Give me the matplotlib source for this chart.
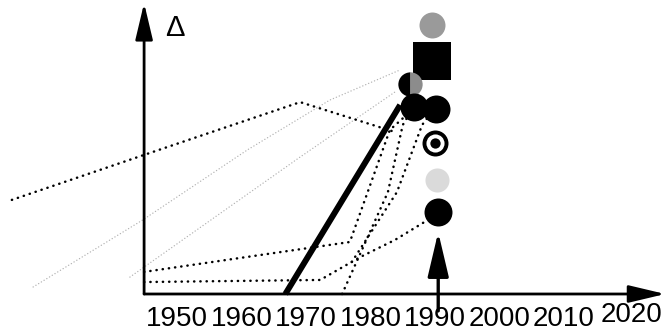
import matplotlib
matplotlib.use("Agg")
import matplotlib.pyplot as plt
from matplotlib import font_manager
from matplotlib.transforms import ScaledTranslation

plt.rcParams['font.family'] = ['Liberation Sans', 'DejaVu Sans']

# tick labels on the time axis
tick_years = [1950, 1960, 1970, 1980, 1990, 2000, 2010, 2020]
tick_labels = ['1950', '1960', '1970', '1980', '1990', '2000', '2010', '2020']

# thick solid trend
thick_years = [1966.8, 1984.6]
thick_delta = [0, 72.7]

# black dotted paths
long_years = [1924.4, 1944.9, 1969.1, 1983.3]
long_delta = [36.2, 53.5, 73.8, 62.7]
a_years = [1944.9, 1976.8, 1983.0, 1986.1]
a_delta = [8.5, 20.0, 63.1, 70.0]
c_years = [1975.6, 1982.7, 1985.0, 1986.4]
c_delta = [0, 39.2, 65.0, 70.8]
d_years = [1944.9, 1972.2, 1978.4, 1983.8, 1988.9]
d_delta = [4.6, 5.4, 14.2, 20.8, 28.5]
e_years = [1977.1, 1984.1, 1988.0, 1989.5]
e_delta = [12.3, 39.2, 65.0, 70.0]

# faint grey dotted paths
faint1_years = [1927.7, 1944.7, 1960.9, 1973.7, 1984.6]
faint1_delta = [2.7, 28.5, 55.4, 74.6, 86.2]
faint2_years = [1942.7, 1969.1, 1983.8]
faint2_delta = [6.5, 52.7, 77.7]

# end markers
black_years = [1986.8, 1990.2, 1990.5]
black_delta = [71.9, 71.2, 31.5]
grey_year, grey_delta = 1989.5, 103.5
square_year, square_delta = 1989.5, 89.6
half_year, half_delta = 1986.1, 80.8
target_year, target_delta = 1990.0, 58.1
pale_year, pale_delta = 1990.3, 43.8
arrow_year, arrow_delta = 1990.5, 23.8

axis_year = 1944.9
x_end = 2025.7
y_end = 111.9


def dotted(ax, xs, ys, color='black', lw=1.6, gap=2.6):
    ax.plot(xs, ys, color=color, lw=lw, linestyle=(0, (0.1, gap)),
            dash_capstyle='round', clip_on=False, zorder=2)


def label_font():
    # narrow face if there is one, else plain Liberation a bit smaller
    try:
        font_manager.findfont('Liberation Sans Narrow', fallback_to_default=False)
        return 'Liberation Sans Narrow', 23
    except ValueError:
        return 'Liberation Sans', 20


def main():
    fig = plt.figure(figsize=(6.67, 3.34), dpi=100)
    ax = fig.add_axes([0, 40 / 334, 1, 294 / 334])
    ax.set_xlim(1922.56, 2025.97)
    ax.set_ylim(0, 113.08)
    for s in ax.spines.values():
        s.set_visible(False)
    ax.set_yticks([])
    family, size = label_font()
    ax.set_xticks(tick_years)
    ax.set_xticklabels(tick_labels, fontsize=size, family=family)
    ax.tick_params(axis='x', length=0, pad=9)
    last = ax.get_xticklabels()[-1]
    last.set_transform(last.get_transform() + ScaledTranslation(0.03, 0.05, fig.dpi_scale_trans))

    # axes drawn as arrows
    ax.annotate('', xy=(axis_year, y_end), xytext=(axis_year, 0),
                arrowprops=dict(arrowstyle='-|>,head_length=1.6,head_width=0.38',
                                mutation_scale=14, lw=2, color='black',
                                shrinkA=0, shrinkB=0),
                annotation_clip=False)
    ax.annotate('', xy=(x_end, 0), xytext=(axis_year, 0),
                arrowprops=dict(arrowstyle='-|>,head_length=1.6,head_width=0.38',
                                mutation_scale=14, lw=2, color='black',
                                shrinkA=0, shrinkB=0),
                annotation_clip=False)
    ax.text(axis_year + 4.8, 102.5, 'Δ', fontsize=21, ha='center', va='center')

    # grey faint trails
    dotted(ax, faint1_years, faint1_delta, color='#b4b4b4', lw=1.0, gap=2.2)
    dotted(ax, faint2_years, faint2_delta, color='#b4b4b4', lw=1.0, gap=2.2)

    # black dotted trails
    for xs, ys in [(long_years, long_delta), (a_years, a_delta), (c_years, c_delta),
                   (d_years, d_delta), (e_years, e_delta)]:
        dotted(ax, xs, ys, lw=1.8, gap=2.4)

    ax.plot(thick_years, thick_delta, color='black', lw=4.3, solid_capstyle='butt',
            clip_on=False, zorder=3)

    # markers
    ax.scatter([grey_year], [grey_delta], s=350, color='#9a9a9a', zorder=4, linewidths=0)
    ax.scatter([square_year], [square_delta], s=750, marker='s', color='black', zorder=4,
               linewidths=0)
    ax.plot([half_year], [half_delta], 'o', markersize=17.5, fillstyle='left',
            markerfacecolor='black', markerfacecoloralt='#8c8c8c', markeredgewidth=0,
            zorder=4)
    ax.scatter(black_years, black_delta, s=406, color='black', zorder=5, linewidths=0)
    ax.scatter([target_year], [target_delta], s=350, color='black', zorder=5, linewidths=0)
    ax.scatter([target_year], [target_delta], s=170, color='white', zorder=6, linewidths=0)
    ax.scatter([target_year], [target_delta], s=55, color='black', zorder=7, linewidths=0)
    ax.scatter([pale_year], [pale_delta], s=300, color='#dadada', zorder=4, linewidths=0)

    # arrow up from the time axis, its stem running through the tick label
    ax.annotate('', xy=(arrow_year, arrow_delta), xytext=(arrow_year, -6.5),
                arrowprops=dict(arrowstyle='-|>,head_length=1.95,head_width=0.46',
                                mutation_scale=14, lw=2.4, color='black',
                                shrinkA=0, shrinkB=0),
                annotation_clip=False)

    fig.savefig('out.png', dpi=100)


if __name__ == "__main__":
    main()
